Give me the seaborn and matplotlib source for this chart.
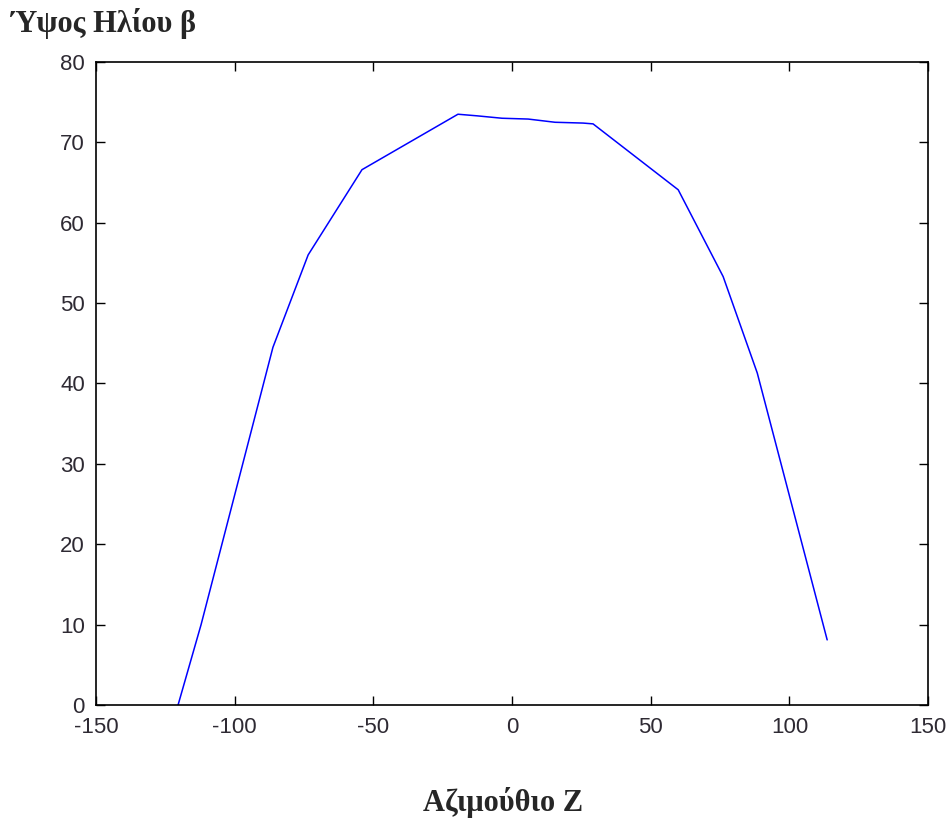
import pandas as pd
import matplotlib
matplotlib.use("Agg")
import matplotlib.pyplot as plt
import seaborn as sns

# Sun path: azimuth Z vs solar altitude beta
azimuth = [-120.4, -112.1, -86.2, -73.5, -54.1, -19.5, -12.6, -3.6, 5.8,
           15.5, 25.6, 29.2, 59.9, 76.1, 88.4, 113.6]
altitude = [0.0, 10.0, 44.5, 56.0, 66.6, 73.5, 73.3, 73.0, 72.9,
            72.5, 72.4, 72.3, 64.1, 53.3, 41.3, 8.1]
x_ticks = [-150, -100, -50, 0, 50, 100, 150]
y_ticks = [0, 10, 20, 30, 40, 50, 60, 70, 80]

df = pd.DataFrame({"Z": azimuth, "beta": altitude})

sns.set_style("white")
plt.rcParams['font.family'] = ['Liberation Sans', 'DejaVu Sans']
plt.rcParams['axes.unicode_minus'] = False

fig = plt.figure(figsize=(9.5, 8.21), dpi=100)
ax = fig.add_axes([0.101, 0.1413, 0.876, 0.7832])

sns.lineplot(data=df, x="Z", y="beta", sort=False, color="#0000ff",
             linewidth=1.1, ax=ax)

ax.set_xlim(-150, 150)
ax.set_ylim(0, 80)
ax.set_xticks(x_ticks)
ax.set_yticks(y_ticks)
ax.tick_params(direction="in", length=6.5, width=1, colors="black",
               labelcolor="#2e2a33", labelsize=16, top=True, right=True,
               bottom=True, left=True)
ax.tick_params(axis="x", pad=9)
ax.tick_params(axis="y", pad=8)
for s in ax.spines.values():
    s.set_color("black")
    s.set_linewidth(1.2)
ax.set_xlabel("")
ax.set_ylabel("")

fig.text(0.011, 0.971, "Ύψος Ηλίου β", fontsize=22, fontweight="bold",
         family=["Liberation Serif", "DejaVu Serif"], ha="left", va="center")
fig.text(0.530, 0.022, "Αζιμούθιο Ζ", fontsize=22, fontweight="bold",
         family=["Liberation Serif", "DejaVu Serif"], ha="center", va="center")

fig.savefig("out.png", dpi=100)
